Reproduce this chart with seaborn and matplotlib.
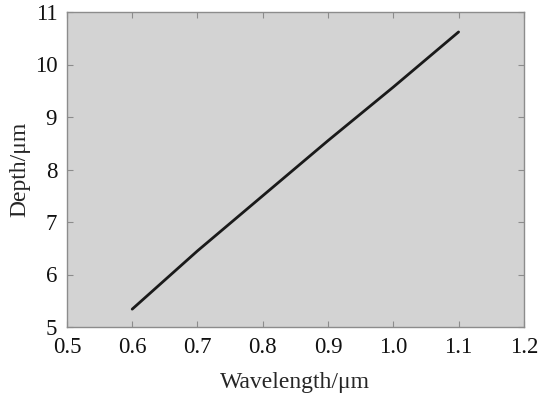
import matplotlib
matplotlib.use("Agg")
import matplotlib.pyplot as plt
import numpy as np
import pandas as pd
import seaborn as sns

# data
wavelength = [0.6, 0.7, 0.8, 0.9, 1.0, 1.1]
depth = [5.34, 6.45, 7.50, 8.55, 9.57, 10.62]

x_ticks = [0.5, 0.6, 0.7, 0.8, 0.9, 1.0, 1.1, 1.2]
x_labels = ["0.5", "0.6", "0.7", "0.8", "0.9", "1.0", "1.1", "1.2"]
y_ticks = [5, 6, 7, 8, 9, 10, 11]

df = pd.DataFrame({"wavelength": wavelength, "depth": depth})

sns.set_style("ticks")
plt.rcParams["font.family"] = ["Liberation Serif", "DejaVu Serif"]

fig = plt.figure(figsize=(5.44, 4.0), dpi=100)
ax = fig.add_axes([0.123, 0.1825, 0.840, 0.7875])
ax.set_facecolor("#d3d3d3")

sns.lineplot(data=df, x="wavelength", y="depth", ax=ax, color="#1a1a1a", linewidth=2.0)

ax.set_xlim(0.5, 1.2)
ax.set_ylim(5, 11)
ax.set_xticks(x_ticks)
ax.set_xticklabels(x_labels)
ax.set_yticks(y_ticks)

for s in ax.spines.values():
    s.set_color("#8c8c8c")
    s.set_linewidth(1.0)

ax.tick_params(direction="in", length=4, width=0.8, color="#8c8c8c",
               labelsize=16.5, labelcolor="#111111", top=True, right=True, pad=7)

ax.set_xlabel("Wavelength/\u03bcm", fontsize=17, labelpad=10)
ax.set_ylabel("Depth/\u03bcm", fontsize=17, labelpad=3)

fig.savefig("out.png", dpi=100)
plt.close(fig)
